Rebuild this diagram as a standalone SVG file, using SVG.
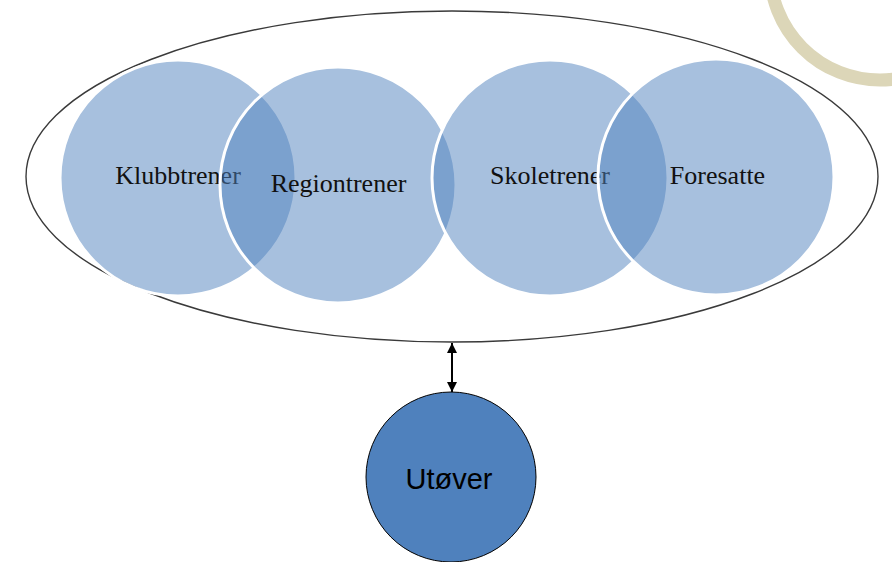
<svg xmlns="http://www.w3.org/2000/svg" width="892" height="562" viewBox="0 0 892 562">
  <style>
    .venn { fill: #4F81BD; fill-opacity: 0.5; stroke: #FFFFFF; stroke-width: 3; }
    .lbl { font-family: "Liberation Serif", "Times New Roman", serif; font-size: 26px; fill: #111111; text-anchor: middle; }
    .frame { fill: none; stroke: #3a3a3a; stroke-width: 1.4; }
    .link { stroke: #000000; stroke-width: 2; fill: none; }
    .athlete { fill: #4F81BD; stroke: #000000; stroke-width: 1; }
    .athlete-lbl { font-family: "Liberation Sans", Arial, sans-serif; font-size: 29px; fill: #000000; text-anchor: middle; }
  </style>
  <defs>
    <marker id="arrowhead" viewBox="0 0 10 10" refX="10" refY="5" markerWidth="5" markerHeight="5" orient="auto-start-reverse" markerUnits="strokeWidth">
      <path d="M0,0 L10,5 L0,10 Z" fill="#000000"/>
    </marker>
  </defs>

  <rect width="892" height="562" fill="#FFFFFF"/>

  <!-- decorative ring in the corner -->
  <circle cx="880" cy="-30" r="110" fill="none" stroke="#DCD6B8" stroke-width="13"/>

  <!-- surrounding group ellipse -->
  <g id="support-network">
    <ellipse class="frame" cx="452" cy="176.5" rx="426" ry="165.5"/>
  </g>

  <g id="klubbtrener">
    <circle class="venn" cx="178" cy="178" r="118"/>
    <text class="lbl" x="178" y="184">Klubbtrener</text>
  </g>
  <g id="regiontrener">
    <circle class="venn" cx="338" cy="185" r="118"/>
    <text class="lbl" x="338.5" y="192">Regiontrener</text>
  </g>
  <g id="skoletrener">
    <circle class="venn" cx="550" cy="178" r="118"/>
    <text class="lbl" x="550" y="184">Skoletrener</text>
  </g>
  <g id="foresatte">
    <circle class="venn" cx="716" cy="177" r="118"/>
    <text class="lbl" x="717.5" y="184">Foresatte</text>
  </g>

  <g id="connectors">
    <line class="link" x1="452" y1="343" x2="452" y2="392" marker-start="url(#arrowhead)" marker-end="url(#arrowhead)"/>
  </g>

  <g id="utover">
    <circle class="athlete" cx="451" cy="477" r="85"/>
    <text class="athlete-lbl" x="449" y="489">Utøver</text>
  </g>
</svg>
